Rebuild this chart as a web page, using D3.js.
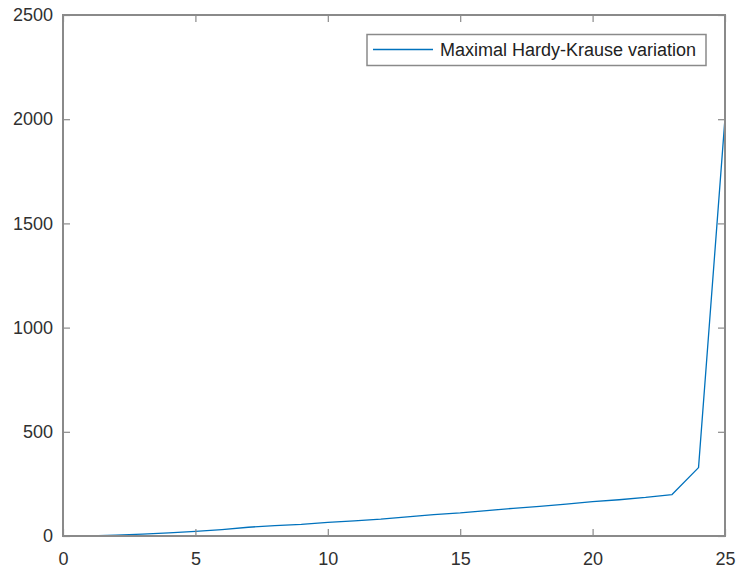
<!DOCTYPE html>
<html><head><meta charset="utf-8">
<script src="https://cdn.jsdelivr.net/npm/d3@7"></script>
<style>body{margin:0;background:#fff}svg{display:block}text{font-family:"Liberation Sans",Arial,sans-serif}</style>
</head><body>
<svg id="c" width="739" height="572"></svg>
<script>
const xValues = [1,2,3,4,5,6,7,8,9,10,11,12,13,14,15,16,17,18,19,20,21,22,23,24,25];
const yValues = [1,4,9,15,22,31,42,50,56,65,73,81,92,103,111,122,133,142,153,165,174,185,199,328,2005];
const xTicks = [0,5,10,15,20,25];
const yTicks = [0,500,1000,1500,2000,2500];
const seriesName = "Maximal Hardy-Krause variation";

const svg = d3.select("#c");
const L=63, R=725, T=15, B=536;
const x = d3.scaleLinear().domain([0,25]).range([L,R]);
const y = d3.scaleLinear().domain([0,2500]).range([B,T]);
const axisCol = "#8a8a8a", txtCol = "#303030";
const fs = "18px";

svg.append("rect").attr("x",L).attr("y",T).attr("width",R-L).attr("height",B-T).attr("fill","#fff");

const line = d3.line().x((d,i)=>x(xValues[i])).y(d=>y(d));
svg.append("path").datum(yValues).attr("d",line).attr("fill","none")
  .attr("stroke","#0072BD").attr("stroke-width",1.3).attr("stroke-linejoin","round");

const tl = 7;
function styleAxis(g){
  g.select(".domain").remove();
  g.selectAll(".tick line").attr("stroke",axisCol).attr("stroke-width",1.2);
  g.selectAll(".tick text").attr("fill",txtCol).style("font-size",fs);
}
svg.append("g").attr("transform",`translate(0,${B})`)
  .call(d3.axisBottom(x).tickValues(xTicks).tickSize(-tl).tickPadding(tl+9).tickFormat(d3.format("d")))
  .call(styleAxis);
svg.append("g").attr("transform",`translate(0,${T})`)
  .call(d3.axisTop(x).tickValues(xTicks).tickSize(-tl).tickFormat(""))
  .call(styleAxis);
svg.append("g").attr("transform",`translate(${L},0)`)
  .call(d3.axisLeft(y).tickValues(yTicks).tickSize(-tl).tickPadding(tl+3).tickFormat(d3.format("d")))
  .call(styleAxis);
svg.append("g").attr("transform",`translate(${R},0)`)
  .call(d3.axisRight(y).tickValues(yTicks).tickSize(-tl).tickFormat(""))
  .call(styleAxis);

svg.append("rect").attr("x",L).attr("y",T).attr("width",R-L).attr("height",B-T)
  .attr("fill","none").attr("stroke",axisCol).attr("stroke-width",2);

// legend
const lg = svg.append("g");
lg.append("rect").attr("x",367).attr("y",34.5).attr("width",339).attr("height",31)
  .attr("fill","#fff").attr("stroke",axisCol).attr("stroke-width",1.5);
lg.append("line").attr("x1",373).attr("x2",433).attr("y1",49.5).attr("y2",49.5)
  .attr("stroke","#0072BD").attr("stroke-width",1.3);
lg.append("text").attr("x",440).attr("y",56).attr("fill","#222").style("font-size",fs).text(seriesName);
</script>
</body></html>
